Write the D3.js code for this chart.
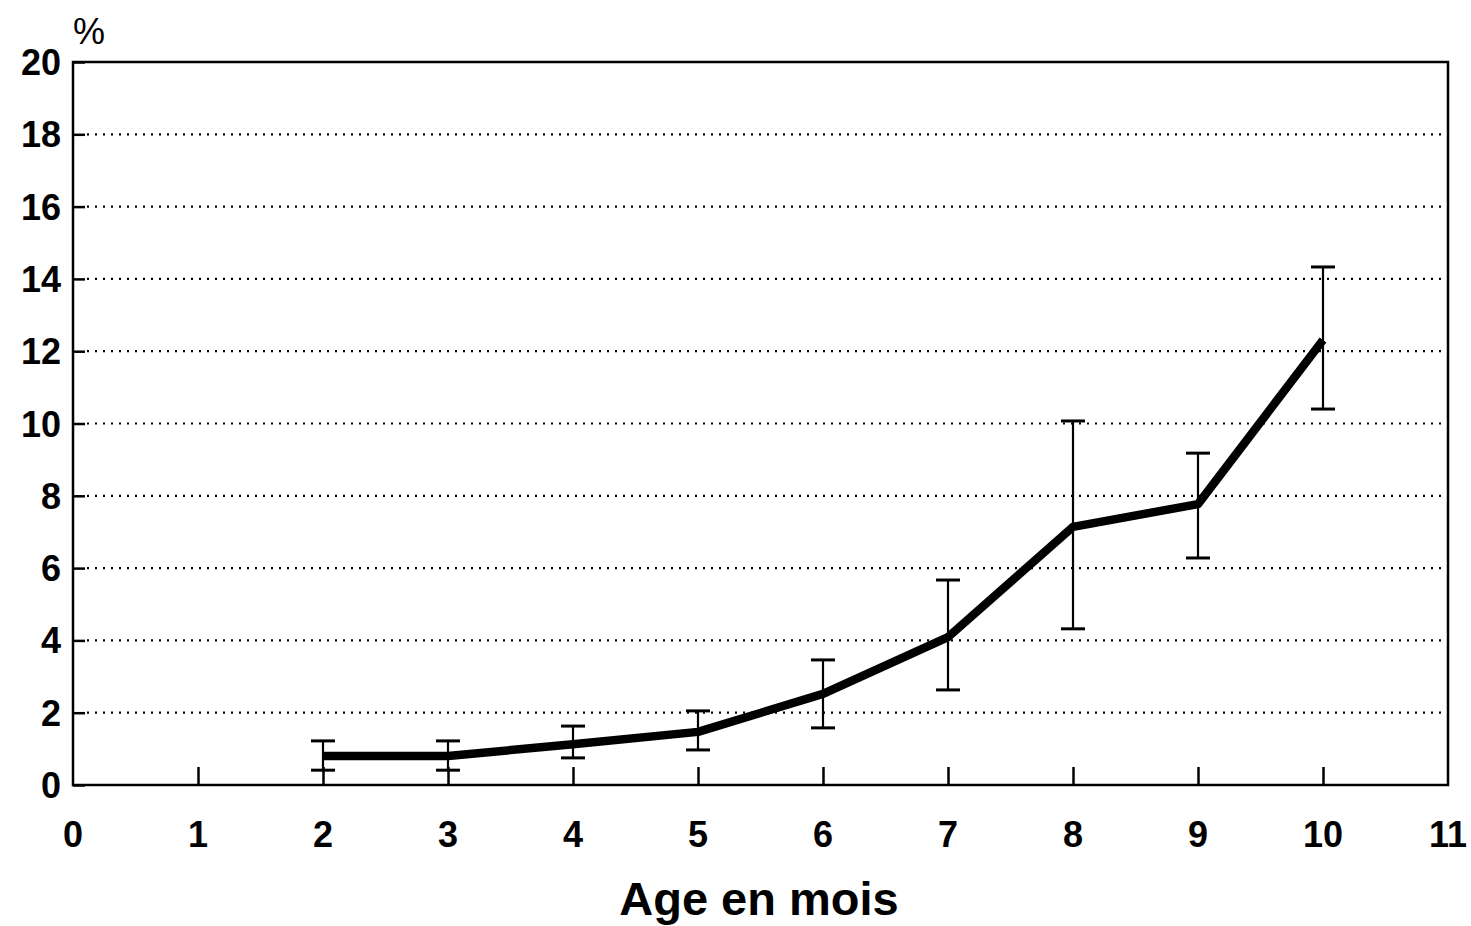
<!DOCTYPE html>
<html><head><meta charset="utf-8">
<script src="https://cdn.jsdelivr.net/npm/d3@7"></script>
<style>body{margin:0;background:#fff}</style>
</head><body>
<svg id="c" width="1471" height="926"></svg>
<script>
const ages = [2, 3, 4, 5, 6, 7, 8, 9, 10];
const values = [0.80, 0.80, 1.13, 1.47, 2.52, 4.09, 7.14, 7.77, 12.31];
const upper = [1.22, 1.22, 1.63, 2.05, 3.46, 5.67, 10.07, 9.18, 14.33];
const lower = [0.41, 0.41, 0.75, 0.97, 1.58, 2.63, 4.32, 6.28, 10.40];
const xTicks = [0, 1, 2, 3, 4, 5, 6, 7, 8, 9, 10, 11];
const yTicks = [0, 2, 4, 6, 8, 10, 12, 14, 16, 18, 20];
const xTitle = "Age en mois";
const yUnit = "%";

const svg = d3.select("#c");
const L = 73, R = 1448, T = 62, B = 785;
const x = d3.scaleLinear().domain([0, 11]).range([L, R]);
const y = d3.scaleLinear().domain([0, 20]).range([B, T]);
const font = "'Liberation Sans', Arial, sans-serif";

// gridlines (dotted)
svg.append("g").selectAll("line").data(yTicks.filter(d => d > 0 && d < 20)).join("line")
  .attr("x1", L + 14).attr("x2", R).attr("y1", d => y(d)).attr("y2", d => y(d))
  .attr("stroke", "#000").attr("stroke-width", 2.2).attr("stroke-dasharray", "2,6");

// y axis with inward ticks
const yAxis = svg.append("g").attr("transform", `translate(${L},0)`)
  .call(d3.axisRight(y).tickValues(yTicks).tickSize(12).tickFormat(""));
yAxis.select(".domain").remove();
yAxis.selectAll("line").attr("stroke", "#000").attr("stroke-width", 2.5);
svg.append("g").selectAll("text").data(yTicks).join("text")
  .attr("x", L - 12).attr("y", d => y(d) + 13).attr("text-anchor", "end")
  .attr("font-family", font).attr("font-weight", "bold").attr("font-size", 36).text(d => d);

// x axis ticks inward
const xAxis = svg.append("g").attr("transform", `translate(0,${B})`)
  .call(d3.axisTop(x).tickValues(xTicks.filter(d => d > 0 && d < 11)).tickSize(18).tickFormat(""));
xAxis.select(".domain").remove();
xAxis.selectAll("line").attr("stroke", "#000").attr("stroke-width", 2.5);
svg.append("g").selectAll("text").data(xTicks).join("text")
  .attr("x", d => x(d)).attr("y", 847).attr("text-anchor", "middle")
  .attr("font-family", font).attr("font-weight", "bold").attr("font-size", 36).text(d => d);

// frame
svg.append("rect").attr("x", L).attr("y", T).attr("width", R - L).attr("height", B - T)
  .attr("fill", "none").attr("stroke", "#000").attr("stroke-width", 2.5);

// error bars
const eb = svg.append("g").attr("stroke", "#000").attr("stroke-width", 2.2);
ages.forEach((a, i) => {
  eb.append("line").attr("x1", x(a)).attr("x2", x(a)).attr("y1", y(upper[i])).attr("y2", y(lower[i]));
  eb.append("line").attr("x1", x(a) - 12).attr("x2", x(a) + 12).attr("y1", y(upper[i])).attr("y2", y(upper[i])).attr("stroke-width", 3);
  eb.append("line").attr("x1", x(a) - 12).attr("x2", x(a) + 12).attr("y1", y(lower[i])).attr("y2", y(lower[i])).attr("stroke-width", 3);
});

// main line
svg.append("path").datum(ages.map((a, i) => [a, values[i]]))
  .attr("d", d3.line().x(d => x(d[0])).y(d => y(d[1])))
  .attr("fill", "none").attr("stroke", "#000").attr("stroke-width", 8.5)
  .attr("stroke-linejoin", "round").attr("stroke-linecap", "butt");

// titles
svg.append("text").attr("x", 89).attr("y", 44).attr("text-anchor", "middle")
  .attr("font-family", font).attr("font-size", 36).text(yUnit);
svg.append("text").attr("x", 759).attr("y", 915).attr("text-anchor", "middle")
  .attr("font-family", font).attr("font-weight", "bold").attr("font-size", 47).text(xTitle);
</script>
</body></html>
